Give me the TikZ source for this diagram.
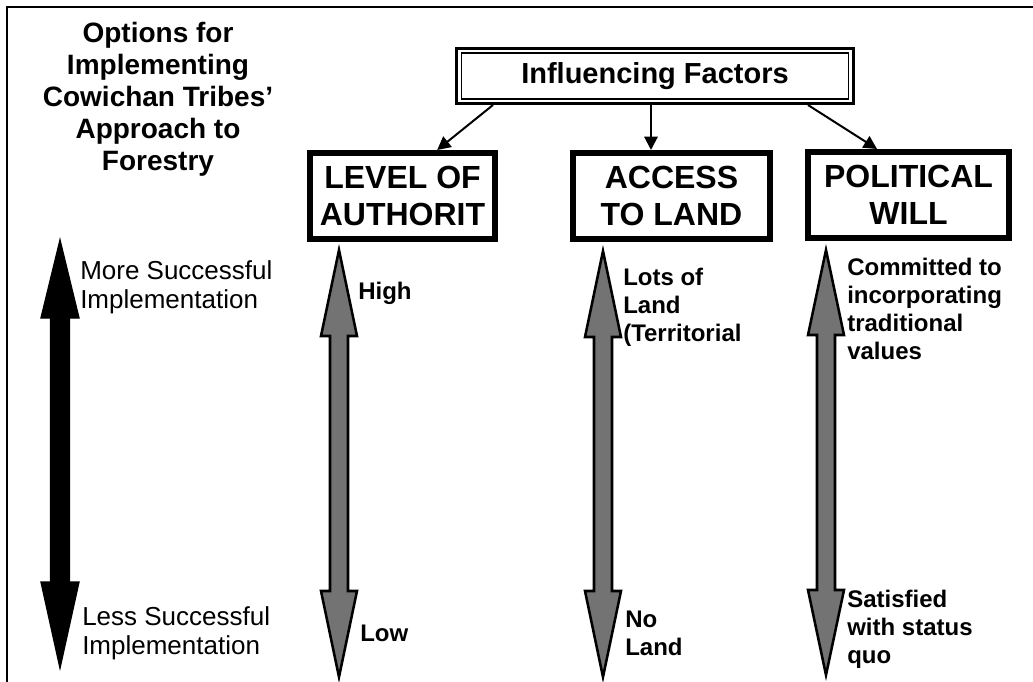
\documentclass[tikz,border=0pt]{standalone}
\usepackage{fontspec}
\setmainfont{Liberation Sans}
\usetikzlibrary{arrows.meta,calc}

% vertical two-headed block arrow:
% #1 style, #2 centre x, #3 top tip, #4 top head base, #5 bottom head base,
% #6 bottom tip, #7 head half width, #8 shaft half width
\newcommand\twowayarrow[8]{%
  \draw[#1] (#2,#3) -- (#2+#7,#4) -- (#2+#8,#4) -- (#2+#8,#5) -- (#2+#7,#5)
    -- (#2,#6) -- (#2-#7,#5) -- (#2-#8,#5) -- (#2-#8,#4) -- (#2-#7,#4) -- cycle;}

\begin{document}
\begin{tikzpicture}[x=0.75pt,y=-0.75pt,
  frameline/.style={line width=1.5pt},
  headerbox/.style={draw,line width=2.25pt,inner sep=0pt,
    minimum width=297.75pt,minimum height=41.25pt,
    font=\bfseries\fontsize{21.75}{26}\selectfont},
  factorbox/.style={draw,line width=4.5pt,align=center,inner sep=0pt,
    minimum height=64.5pt,font=\bfseries\fontsize{24}{27.75}\selectfont},
  pointer/.style={line width=1.5pt,-{Triangle[length=10pt,width=10pt]}},
  titletext/.style={align=center,inner sep=0pt,
    font=\bfseries\fontsize{21}{24}\selectfont},
  scalelabel/.style={anchor=north west,align=left,inner sep=0pt,
    font=\fontsize{19.5}{22}\selectfont},
  levellabel/.style={anchor=north west,align=left,inner sep=0pt,
    font=\bfseries\fontsize{18}{21}\selectfont},
  grayarrow/.style={draw=black,line width=1.9pt,fill=black!55,line join=miter},
  blackarrow/.style={draw=black,line width=1pt,fill=black,line join=miter},
]
\useasboundingbox (0,0) rectangle (1033,682);

% page frame
\draw[frameline] (7,682) -- (7,7) -- (1033,7);

% title
\node[titletext,anchor=north] (title) at (158,21.5)
  {Options for\\Implementing\\Cowichan Tribes'\\Approach to\\Forestry};

% header with double border
\node[headerbox] (inf) at (655,76) {Influencing Factors};
\draw[line width=1.1pt] ($(inf.north west)+(6.5,6)$) rectangle ($(inf.south east)+(-6.5,-6)$);

% factor boxes
\node[factorbox,minimum width=138.75pt] (lev) at (402.5,196) {LEVEL OF\\AUTHORIT};
\node[factorbox,minimum width=147.75pt] (acc) at (671.5,196) {ACCESS\\TO LAND};
\node[factorbox,minimum width=150.75pt] (pol) at (908.5,195) {POLITICAL\\WILL};

% connectors from the header
\draw[pointer] ([xshift=28.5pt]inf.south west) -- ([xshift=26pt]lev.north);
\draw[pointer] ([xshift=-3pt]inf.south) -- ([xshift=-3pt]inf.south |- acc.north);
\draw[pointer] ([xshift=-35.25pt]inf.south east) -- ([xshift=-23.6pt]pol.north);

% success scale
\twowayarrow{blackarrow}{60}{240}{318}{582}{668}{19}{9.5}
\node[scalelabel] (more) at (80,260) {More Successful\\Implementation};
\node[scalelabel] (less) at (82,606) {Less Successful\\Implementation};

% factor scales
\twowayarrow{grayarrow}{339}{250}{336}{591}{677}{18}{9}
\twowayarrow{grayarrow}{603}{251}{337}{591}{677}{18}{9}
\twowayarrow{grayarrow}{826}{250}{335}{590}{675}{18}{9}

\node[levellabel] (high) at (358,281.5) {High};
\node[levellabel] (low) at (360,624.5) {Low};
\node[levellabel] (lots) at (623,267.5) {Lots of\\Land\\(Territorial};
\node[levellabel] (noland) at (625,610.5) {No\\Land};
\node[levellabel] (commit) at (847,257.5) {Committed to\\incorporating\\traditional\\values};
\node[levellabel] (satis) at (847,589.5) {Satisfied\\with status\\quo};
\end{tikzpicture}
\end{document}
